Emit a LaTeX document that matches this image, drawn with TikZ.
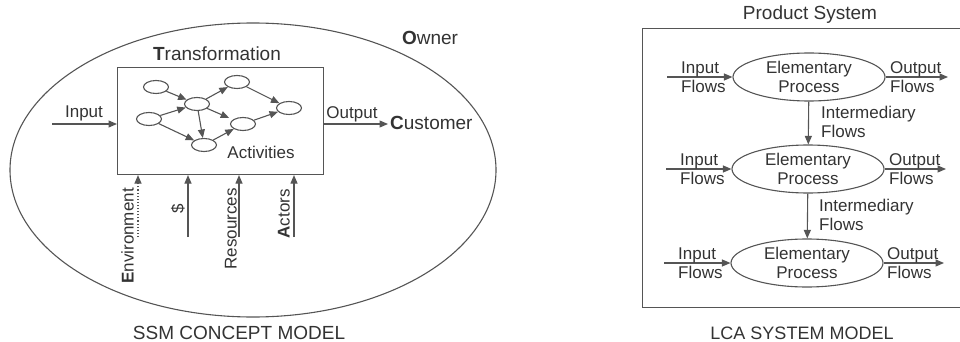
\documentclass[tikz,border=0pt]{standalone}
\usepackage{fontspec}
\setmainfont{Liberation Sans}
\usetikzlibrary{arrows.meta,positioning,shapes.geometric}
\definecolor{ssmLine}{HTML}{555555}
\definecolor{ssmText}{HTML}{333333}

\begin{document}
\begin{tikzpicture}[x=1pt,y=-1pt,font=\fontsize{17}{19.5}\selectfont,
    text=ssmText,
    ln/.style={draw=ssmLine,line width=1.1pt},
    flow/.style={ln,-{Triangle[length=8.5pt,width=7pt]}},
    act/.style={ln,ellipse,inner sep=0pt,minimum width=25pt,minimum height=13pt},
    proc/.style={ln,ellipse,inner sep=0pt,minimum width=152pt,minimum height=48pt,
                 align=center},
    lbl/.style={inner sep=1pt},
    ttl/.style={lbl,font=\fontsize{19}{22}\selectfont},
    side/.style={lbl,rotate=90,anchor=south east}]
  \useasboundingbox (0,0) rectangle (960,342);

  % --- soft systems side ---
  \node[ln,ellipse,minimum width=486pt,minimum height=294pt] (sys) at (253,170) {};
  \node[ttl] (owner) at (430,38) {\textbf{O}wner};
  \node[ln,minimum width=206pt,minimum height=107pt,anchor=north west] (trans) at (117,67) {};
  \node[ttl] (transT) at (217,54) {\textbf{T}ransformation};
  \node[lbl] (acts) at (261,152) {Activities};

  \node[act] (a1) at (156,87) {};
  \node[act] (a2) at (149,119) {};
  \node[act] (a3) at (197,104) {};
  \node[act] (a4) at (237,82) {};
  \node[act] (a5) at (204,145) {};
  \node[act] (a6) at (243,124) {};
  \node[act] (a7) at (289,108) {};
  \draw[flow] (a1) -- (a3);
  \draw[flow] (a2) -- (a3);
  \draw[flow] (a2) -- (a5);
  \draw[flow] (a3) -- (a5);
  \draw[flow] (a3) -- (a4);
  \draw[flow,shorten >=4pt] (a3) -- (a6);
  \draw[flow] (a5) -- (a6);
  \draw[flow] (a4) -- (a7);
  \draw[flow] (a6) -- (a7);

  \coordinate (inS) at (52,124);
  \draw[flow] (inS) -- (inS -| trans.west);
  \node[lbl] (inT) at (84,113) {Input};
  \node[ttl,anchor=west,inner sep=2pt] (cust) at (388,123) {\textbf{C}ustomer};
  \draw[flow] (trans.east |- 0,124) -- (cust.west |- 0,124);
  \node[lbl] (outT) at (352,114) {Output};

  \coordinate (envS) at (138,237);
  \coordinate (cashS) at (188,237);
  \coordinate (resS) at (239,237);
  \coordinate (actS) at (294,237);
  \draw[flow,dotted] (envS) -- (envS |- trans.south);
  \draw[flow] (cashS) -- (cashS |- trans.south);
  \draw[flow] (resS) -- (resS |- trans.south);
  \draw[flow] (actS) -- (actS |- trans.south);
  \node[side] (envT) at (135,187) {\textbf{E}nvironment};
  \node[side] (cashT) at (186,203) {\$};
  \node[side] (resT) at (238,187) {Resources};
  \node[side] (actT) at (291,188) {\textbf{A}ctors};

  \node[ttl] (ssm) at (239,333) {SSM CONCEPT MODEL};

  % --- life cycle side ---
  \node[ln,minimum width=322pt,minimum height=279pt,anchor=north west] (ps) at (642,28) {};
  \node[ttl] (psT) at (810,15) {Product System};

  \node[proc] (p1) at (809,77) {Elementary\\Process};
  \node[proc] (p2) at (808,169) {Elementary\\Process};
  \node[proc] (p3) at (807,263) {Elementary\\Process};

  \coordinate (i1) at (667,77);
  \coordinate (i2) at (666,169);
  \coordinate (i3) at (664,263);
  \coordinate (o1) at (948,77);
  \coordinate (o2) at (946,169);
  \coordinate (o3) at (944,263);
  \draw[flow] (i1) -- (p1);
  \draw[flow] (i2) -- (p2);
  \draw[flow] (i3) -- (p3);
  \draw[flow] (p1) -- (o1);
  \draw[flow] (p2) -- (o2);
  \draw[flow] (p3) -- (o3);
  \node[lbl,anchor=west,align=left] (in1) at (680,77) {Input\\Flows};
  \node[lbl,anchor=west,align=left] (in2) at (679,169) {Input\\Flows};
  \node[lbl,anchor=west,align=left] (in3) at (677,263) {Input\\Flows};
  \node[lbl,anchor=west,align=left] (out1) at (889,77) {Output\\Flows};
  \node[lbl,anchor=west,align=left] (out2) at (888,169) {Output\\Flows};
  \node[lbl,anchor=west,align=left] (out3) at (886,263) {Output\\Flows};

  \draw[flow] (p1) -- (p2);
  \draw[flow] (p2) -- (p3);
  \node[lbl,anchor=west,align=left] (mid1) at (820,122) {Intermediary\\Flows};
  \node[lbl,anchor=west,align=left] (mid2) at (818,215) {Intermediary\\Flows};

  \node[ttl,font=\fontsize{18}{21}\selectfont] (lca) at (802,333) {LCA SYSTEM MODEL};
\end{tikzpicture}
\end{document}
